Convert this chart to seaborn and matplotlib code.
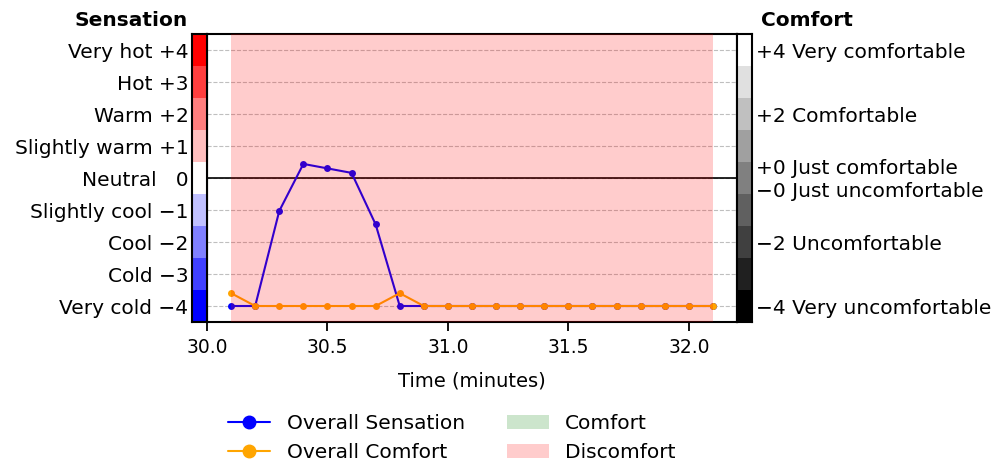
import numpy as np
import pandas as pd
import matplotlib
matplotlib.use("Agg")
import matplotlib.pyplot as plt
from matplotlib.lines import Line2D
from matplotlib.patches import Patch
import seaborn as sns

# ---- data ----
time_min = [30.1, 30.2, 30.3, 30.4, 30.5, 30.6, 30.7, 30.8, 30.9, 31.0, 31.1,
            31.2, 31.3, 31.4, 31.5, 31.6, 31.7, 31.8, 31.9, 32.0, 32.1]
sensation = [-4, -4, -1.03, 0.44, 0.3, 0.16, -1.45, -4, -4, -4, -4,
             -4, -4, -4, -4, -4, -4, -4, -4, -4, -4]
comfort = [-3.6, -4, -4, -4, -4, -4, -4, -3.6, -4, -4, -4,
           -4, -4, -4, -4, -4, -4, -4, -4, -4, -4]
discomfort_periods = [(30.1, 32.1)]
comfort_periods = []

sens_levels = [-4, -3, -2, -1, 0, 1, 2, 3, 4]
sens_labels = ["Very cold \u22124", "Cold \u22123", "Cool \u22122", "Slightly cool \u22121",
               "Neutral   0", "Slightly warm +1", "Warm +2", "Hot +3", "Very hot +4"]
comf_levels = [-4, -3, -2, -1, 0, 1, 2, 3, 4]
comf_tick_pos = [4, 2, 0.35, -0.35, -2, -4]
comf_tick_labels = ["+4 Very comfortable", "+2 Comfortable", "+0 Just comfortable",
                    "\u22120 Just uncomfortable", "\u22122 Uncomfortable", "\u22124 Very uncomfortable"]
x_ticks = [30.0, 30.5, 31.0, 31.5, 32.0]

sns.set_style("ticks")
plt.rcParams.update({
    'font.family': ['DejaVu Sans'],
    'text.color': 'black',
    'axes.labelcolor': 'black',
    'axes.edgecolor': 'black',
    'xtick.color': 'black',
    'ytick.color': 'black',
})
FS = 14.5

fig = plt.figure(figsize=(9.98, 4.66), dpi=100)
W, H = 998, 466
def rect(x0, x1, y0, y1):
    return [x0 / W, 1 - y1 / H, (x1 - x0) / W, (y1 - y0) / H]

ax = fig.add_axes(rect(207, 737, 34, 322))
axl = fig.add_axes(rect(192, 207, 34, 322))
axr = fig.add_axes(rect(737, 752, 34, 322))

df = pd.DataFrame({"time": time_min, "sensation": sensation, "comfort": comfort})
sns.lineplot(data=df, x="time", y="sensation", ax=ax, color="#0000ff", marker="o",
             markersize=5, markeredgewidth=0, linewidth=1.5, zorder=2)
sns.lineplot(data=df, x="time", y="comfort", ax=ax, color="orange", marker="o",
             markersize=5, markeredgewidth=0, linewidth=1.5, zorder=2)
for (a, b) in discomfort_periods:
    ax.axvspan(a, b, color="red", alpha=0.2, lw=0, zorder=3)
for (a, b) in comfort_periods:
    ax.axvspan(a, b, color="green", alpha=0.2, lw=0, zorder=3)

ax.set_xlim(30.0, 32.2)
ax.set_ylim(-4.5, 4.5)
ax.set_yticks(sens_levels)
ax.tick_params(axis="y", left=False, labelleft=False)
ax.yaxis.grid(True, linestyle="--", color="gray", alpha=0.5, linewidth=0.8)
ax.axhline(0, color="black", linewidth=1.2, zorder=1)
ax.set_xticks(x_ticks)
ax.set_xticklabels([f"{t:.1f}" for t in x_ticks], fontsize=13.5)
ax.tick_params(axis="x", length=6.5, width=1.3, pad=5)
ax.set_xlabel("Time (minutes)", fontsize=14, labelpad=10.5)
ax.set_ylabel("")
for s in ax.spines.values():
    s.set_linewidth(1.5)

# sensation colour bar
cmap_s = plt.get_cmap("bwr")
axl.barh(sens_levels, width=1, height=1, left=0,
         color=[cmap_s((v + 4) / 8) for v in sens_levels], linewidth=0)
axl.set_xlim(0, 1)
axl.set_ylim(-4.5, 4.5)
axl.set_xticks([])
axl.set_yticks(sens_levels)
axl.set_yticklabels(sens_labels, fontsize=FS)
axl.tick_params(axis="y", length=0, pad=2.5)
for s in axl.spines.values():
    s.set_linewidth(1.5)

# comfort colour bar
cmap_c = plt.get_cmap("gray")
axr.barh(comf_levels, width=1, height=1, left=0,
         color=[cmap_c((v + 4) / 8) for v in comf_levels], linewidth=0)
axr.set_xlim(0, 1)
axr.set_ylim(-4.5, 4.5)
axr.set_xticks([])
axr.yaxis.tick_right()
axr.set_yticks(comf_tick_pos)
axr.set_yticklabels(comf_tick_labels, fontsize=FS)
axr.tick_params(axis="y", length=0, pad=3)
for s in axr.spines.values():
    s.set_linewidth(1.5)

fig.text(188 / W, 1 - 20 / H, "Sensation", ha="right", va="center",
         fontsize=FS, fontweight="bold")
fig.text(761 / W, 1 - 20 / H, "Comfort", ha="left", va="center",
         fontsize=FS, fontweight="bold")

handles = [
    Line2D([0], [0], color="#0000ff", marker="o", markersize=9, linewidth=1.5),
    Line2D([0], [0], color="orange", marker="o", markersize=9, linewidth=1.5),
    Patch(facecolor="green", alpha=0.2, edgecolor="none"),
    Patch(facecolor="red", alpha=0.2, edgecolor="none"),
]
labels = ["Overall Sensation", "Overall Comfort", "Comfort", "Discomfort"]
fig.legend(handles, labels, ncol=2, frameon=False, fontsize=FS,
           loc="center", bbox_to_anchor=(452 / W, 1 - 438 / H),
           handlelength=2.1, columnspacing=2.1, handletextpad=0.8, labelspacing=0.5)

fig.savefig("out.png", dpi=100)
